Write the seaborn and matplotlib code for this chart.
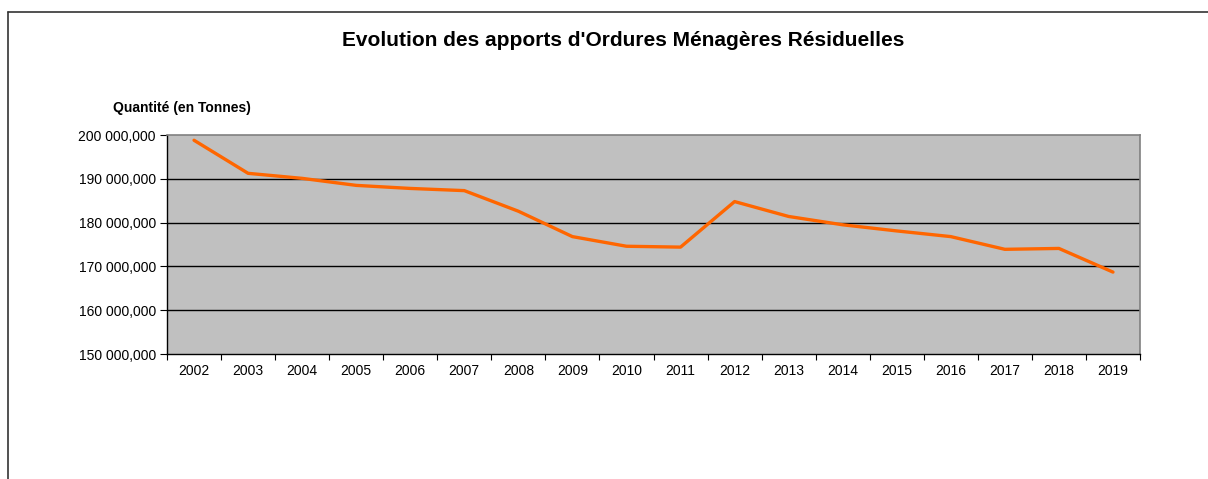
import numpy as np
import pandas as pd
import matplotlib
matplotlib.use('Agg')
import matplotlib.pyplot as plt
import seaborn as sns
from matplotlib.lines import Line2D
from matplotlib.ticker import FuncFormatter, FixedLocator

# data (tonnes)
years = ['2002', '2003', '2004', '2005', '2006', '2007', '2008', '2009', '2010',
         '2011', '2012', '2013', '2014', '2015', '2016', '2017', '2018', '2019']
tonnes = [198800, 191250, 190100, 188500, 187800, 187300, 182600, 176800, 174600,
          174400, 184800, 181400, 179500, 178100, 176800, 173900, 174100, 168700]
y_ticks = [150000, 160000, 170000, 180000, 190000, 200000]

title = "Evolution des apports d'Ordures Ménagères Résiduelles"
y_label = 'Quantité (en Tonnes)'

df = pd.DataFrame({'annee': years, 'tonnes': tonnes})

sns.set_style('white')
plt.rcParams['font.family'] = ['Liberation Sans', 'DejaVu Sans']
plt.rcParams['text.color'] = 'black'

fig = plt.figure(figsize=(12.08, 4.79), dpi=100)
ax = fig.add_axes([167 / 1208, 1 - 354 / 479, (1140 - 167) / 1208, (354 - 135) / 479])
ax.set_facecolor('#c0c0c0')

sns.lineplot(data=df, x='annee', y='tonnes', ax=ax, color='#ff6600', linewidth=2.4,
             sort=False, zorder=3)

ax.set_xlim(-0.5, len(years) - 0.5)
ax.set_ylim(150000, 200000)
ax.set_yticks(y_ticks)
ax.yaxis.set_major_formatter(FuncFormatter(
    lambda v, p: f'{v:,.3f}'.replace(',', ' ').replace('.', ',')))
for v in y_ticks[1:-1]:
    ax.axhline(v, color='black', linewidth=1.0, zorder=2)

# category ticks between labels (Excel style)
ax.set_xticks(range(len(years)))
ax.set_xticklabels(years)
ax.xaxis.set_minor_locator(FixedLocator(np.arange(-0.5, len(years), 1.0)))
ax.tick_params(axis='x', which='major', length=0, pad=7, labelsize=10, labelcolor='black')
ax.tick_params(axis='x', which='minor', length=4, width=0.8, color='black', direction='out', bottom=True)
ax.tick_params(axis='y', which='major', length=5, width=0.8, color='black', direction='out',
               left=True, labelsize=10, labelcolor='black', pad=3)
ax.set_xlabel('')
ax.set_ylabel('')

for side in ['top', 'right']:
    ax.spines[side].set_color('#808080')
    ax.spines[side].set_linewidth(1.2)
for side in ['left', 'bottom']:
    ax.spines[side].set_color('black')
    ax.spines[side].set_linewidth(1.0)

fig.text(623 / 1208, 1 - 40 / 479, title, ha='center', va='center',
         fontsize=15, fontweight='bold', color='black')
fig.text(113 / 1208, 1 - 108 / 479, y_label, ha='left', va='center',
         fontsize=10, fontweight='bold', color='black')

# outer chart frame
fig.add_artist(Line2D([8 / 1208, 8 / 1208], [0, 1 - 12 / 479], color='#333333',
                      linewidth=1.2, transform=fig.transFigure))
fig.add_artist(Line2D([8 / 1208, 1], [1 - 12 / 479, 1 - 12 / 479], color='#333333',
                      linewidth=1.2, transform=fig.transFigure))

fig.savefig('out.png', dpi=100)
